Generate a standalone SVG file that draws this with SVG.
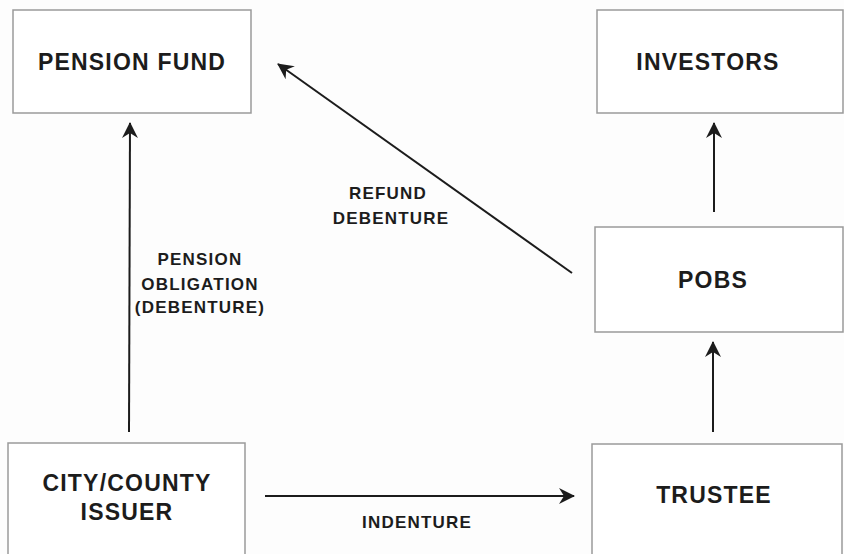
<svg xmlns="http://www.w3.org/2000/svg" width="844" height="554" viewBox="0 0 844 554">
<style>
.box{fill:#fff;stroke:#9a9a9a;stroke-width:1.5}
.t{font-family:"Liberation Sans",Arial,sans-serif;font-weight:bold;fill:#1c1c1c;text-anchor:middle}
.big{font-size:23px;letter-spacing:1.2px}
.sm{font-size:17px;letter-spacing:1.2px}
.c{stroke:#1c1c1c;stroke-width:2;fill:none}
</style>
<defs>
<marker id="ah" viewBox="0 0 16 16" refX="15" refY="8" markerWidth="16" markerHeight="16" orient="auto" markerUnits="userSpaceOnUse">
<path d="M0,0 L16,8 L0,16 L5,8 z" fill="#1c1c1c"/>
</marker>
</defs>
<rect width="844" height="554" fill="#fdfdfd"/>
<g id="pension-fund"><rect class="box" x="13" y="10" width="238" height="103"/><text class="t big" x="132" y="70">PENSION FUND</text></g>
<g id="investors"><rect class="box" x="597" y="10" width="246" height="103"/><text class="t big" x="708" y="70">INVESTORS</text></g>
<g id="pobs"><rect class="box" x="595" y="227" width="248" height="105"/><text class="t big" x="713" y="288">POBS</text></g>
<g id="trustee"><rect class="box" x="592" y="444" width="250" height="112"/><text class="t big" x="714" y="503">TRUSTEE</text></g>
<g id="city-county-issuer"><rect class="box" x="8" y="443" width="237" height="112"/><text class="t big" x="127" y="491">CITY/COUNTY</text><text class="t big" x="127" y="520">ISSUER</text></g>
<g id="connectors">
<line class="c" x1="129" y1="432" x2="130" y2="123" marker-end="url(#ah)"/>
<line class="c" x1="572" y1="273" x2="278" y2="64" marker-end="url(#ah)"/>
<line class="c" x1="714" y1="212" x2="714" y2="123" marker-end="url(#ah)"/>
<line class="c" x1="713" y1="432" x2="713" y2="342" marker-end="url(#ah)"/>
<line class="c" x1="265" y1="496" x2="574" y2="496" marker-end="url(#ah)"/>
</g>
<g id="labels">
<text class="t sm" x="200" y="265">PENSION</text>
<text class="t sm" x="200" y="290">OBLIGATION</text>
<text class="t sm" x="200" y="313">(DEBENTURE)</text>
<text class="t sm" x="388" y="199">REFUND</text>
<text class="t sm" x="391" y="224">DEBENTURE</text>
<text class="t sm" x="417" y="528">INDENTURE</text>
</g>
</svg>
